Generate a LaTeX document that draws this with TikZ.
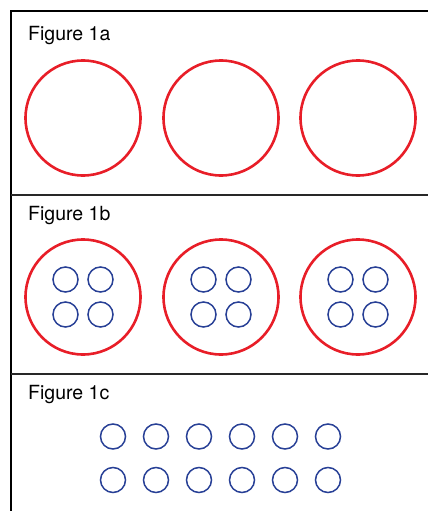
\documentclass[tikz,border=0pt]{standalone}
\usepackage{fontspec}
\setmainfont{TeX Gyre Heros}
\usepackage{tikz}
\usetikzlibrary{calc}
\usepackage{xcolor}
\definecolor{ringred}{RGB}{232,30,40}
\definecolor{dotblue}{RGB}{40,64,150}
\definecolor{rulegrey}{RGB}{40,40,40}

\begin{document}
\begin{tikzpicture}[x=1pt, y=-1pt,
    frame/.style={draw=black, line width=2.6pt},
    divider/.style={draw=rulegrey, line width=1.3pt},
    caption/.style={anchor=base west, inner sep=0pt, font=\fontsize{19.5}{22}\selectfont},
    bigring/.style={circle, draw=ringred, line width=2.6pt, minimum size=115pt, inner sep=0pt},
    smallring/.style={circle, draw=dotblue, line width=1.5pt, minimum size=25pt, inner sep=0pt}
]
    \useasboundingbox (0,0) rectangle (428,511);

    % outer frame (left and top) and dividers
    \coordinate (tl) at (11,11);
    \coordinate (tr) at (428,11);
    \coordinate (bl) at (11,511);
    \draw[frame] (tr) -- (tl) -- (bl);
    \coordinate (d1l) at (11,195);  \coordinate (d1r) at (428,195);
    \coordinate (d2l) at (11,374);  \coordinate (d2r) at (428,374);
    \draw[divider] (d1l) -- (d1r);
    \draw[divider] (d2l) -- (d2r);

    % Figure 1a: three empty rings
    \node[caption] (capA) at (28,41) {Figure 1a};
    \node[bigring] (a1) at (83,118)  {};
    \node[bigring] (a2) at (221,118) {};
    \node[bigring] (a3) at (358,118) {};

    % Figure 1b: rings with four small circles inside
    \node[caption] (capB) at (28,220) {Figure 1b};
    \node[bigring] (b1) at (83,297)  {};
    \node[bigring] (b2) at (221,297) {};
    \node[bigring] (b3) at (358,297) {};
    \foreach \r in {b1,b2,b3}{
        \node[smallring] (\r-nw) at ($(\r)+(-17.5,-17.5)$) {};
        \node[smallring] (\r-ne) at ($(\r)+(17.5,-17.5)$)  {};
        \node[smallring] (\r-sw) at ($(\r)+(-17.5,17.5)$)  {};
        \node[smallring] (\r-se) at ($(\r)+(17.5,17.5)$)   {};
    }

    % Figure 1c: two rows of six small circles
    \node[caption] (capC) at (28,399) {Figure 1c};
    \foreach \i in {0,...,5}{
        \node[smallring] (c1-\i) at (113+43*\i,436.5) {};
        \node[smallring] (c2-\i) at (113+43*\i,480)   {};
    }
\end{tikzpicture}
\end{document}
